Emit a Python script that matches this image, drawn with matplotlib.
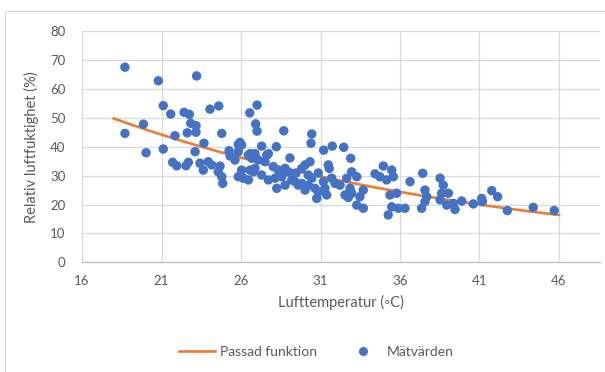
import numpy as np
import matplotlib.pyplot as plt
from matplotlib.patches import Rectangle
from matplotlib.lines import Line2D

# Mätvärden: lufttemperatur (°C) och relativ luftfuktighet (%)
temp = [
    18.70, 20.80, 23.21, 21.11, 21.58, 22.42, 22.75, 24.05, 24.60, 19.86,
    18.70, 22.84, 23.17, 22.62, 23.17, 21.85, 24.79, 23.67, 20.03, 21.11,
    23.11, 25.25, 25.83, 25.83, 21.70, 21.96, 22.54, 22.69, 23.42, 23.63,
    23.94, 24.16, 24.68, 24.57, 24.79, 24.85, 25.31, 25.62, 27.01, 26.55,
    26.92, 27.01, 28.69, 30.45, 30.40, 25.94, 26.04, 27.30, 28.22, 31.20,
    31.74, 32.46, 26.57, 26.88, 27.72, 25.83, 26.04, 26.46, 26.67, 26.88,
    27.09, 26.57, 26.77, 26.88, 26.14, 26.46, 27.62, 27.51, 28.03, 28.35,
    28.77, 27.72, 28.14, 28.56, 28.25, 28.97, 29.19, 29.40, 29.60, 29.82,
    29.82, 30.03, 30.34, 30.23, 30.45, 30.23, 30.65, 30.86, 30.76, 31.28,
    31.39, 31.18, 31.55, 31.49, 31.70, 31.91, 32.54, 32.90, 32.96, 33.28,
    32.23, 32.86, 32.96, 32.75, 33.69, 33.48, 33.28, 33.69, 34.43, 34.74,
    34.95, 35.16, 35.48, 35.58, 35.37, 35.79, 35.48, 35.26, 35.89, 36.31,
    36.63, 37.43, 37.57, 37.68, 37.57, 37.36, 38.52, 38.72, 38.62, 38.52,
    38.94, 39.04, 39.35, 39.46, 39.88, 40.61, 41.14, 41.18, 41.77, 42.14,
    42.75, 44.38, 45.70, 29.08, 29.46, 30.03, 28.77, 27.30, 30.86, 32.65,
]
rh = [
    67.5, 62.8, 64.5, 54.2, 51.3, 51.9, 51.2, 53.0, 54.1, 47.8,
    44.6, 48.1, 47.3, 44.8, 45.0, 43.8, 44.6, 41.2, 37.9, 39.2,
    38.3, 38.6, 40.8, 38.3, 34.6, 33.4, 33.4, 34.6, 34.3, 31.9,
    34.8, 33.7, 33.3, 31.3, 29.6, 27.3, 36.8, 35.4, 54.4, 51.7,
    47.9, 45.4, 45.5, 44.4, 41.2, 41.5, 40.6, 40.2, 40.0, 38.8,
    40.2, 39.8, 37.6, 37.6, 37.6, 29.6, 31.9, 37.1, 36.0, 36.5,
    35.4, 31.9, 31.3, 32.5, 29.1, 28.5, 37.1, 34.8, 33.1, 31.9,
    32.5, 28.5, 29.1, 29.6, 25.6, 31.3, 28.5, 27.9, 26.7, 27.3,
    32.5, 33.7, 34.8, 30.2, 29.1, 26.7, 25.6, 24.4, 22.1, 25.6,
    23.3, 27.9, 32.5, 33.7, 29.1, 27.3, 23.3, 36.0, 31.3, 29.6,
    26.7, 25.6, 23.9, 22.4, 25.0, 22.7, 19.8, 18.7, 30.6, 29.6,
    33.3, 28.5, 31.9, 29.6, 23.3, 23.9, 19.2, 16.4, 18.7, 18.7,
    27.9, 30.8, 25.0, 22.7, 21.0, 18.7, 29.1, 26.7, 23.9, 21.6,
    19.8, 23.9, 20.4, 18.3, 21.2, 20.2, 22.1, 21.0, 24.8, 22.7,
    17.9, 19.0, 17.9, 36.1, 30.9, 25.0, 26.7, 30.2, 30.9, 29.1,
]

# passad exponentialfunktion y = a * exp(k * x)
fit_a = 101.7
fit_k = -0.0397
fit_range = (18.0, 46.0)

xticks = [16, 21, 26, 31, 36, 41, 46]
yticks = [0, 10, 20, 30, 40, 50, 60, 70, 80]

blue = '#4472C4'
orange = '#ED7D31'
grey_text = '#595959'
grid_col = '#D9D9D9'

plt.rcParams['font.family'] = ['Lato', 'DejaVu Sans']

W, H = 605, 372
fig = plt.figure(figsize=(W / 100, H / 100), dpi=100)

left, right, bottom, top = 82, 600, 262.3, 31.1
ax = fig.add_axes([left / W, 1 - bottom / H, (right - left) / W, (bottom - top) / H])

px_per_unit = 15.9
ax.set_xlim(16, 16 + (right - left) / px_per_unit)
ax.set_ylim(0, 80)

fx = np.linspace(fit_range[0], fit_range[1], 100)
ax.plot(fx, fit_a * np.exp(fit_k * fx), color=orange, lw=1.9, zorder=2)
ax.scatter(temp, rh, s=46, color=blue, edgecolors='none', zorder=3)

ax.set_xticks(xticks)
ax.set_yticks(yticks)
ax.grid(True, color=grid_col, lw=0.9)
ax.set_axisbelow(True)
for s in ['top', 'right', 'left']:
    ax.spines[s].set_visible(False)
ax.spines['bottom'].set_color('#BFBFBF')
ax.spines['bottom'].set_linewidth(0.9)
ax.tick_params(length=0, labelsize=9.5, labelcolor=grey_text, pad=9)
ax.tick_params(axis='y', pad=12)

ax.set_xlabel('Lufttemperatur (◦C)', fontsize=10.5, color=grey_text, labelpad=6)
ax.set_ylabel('Relativ luftfuktighet (%)', fontsize=10.5, color=grey_text, labelpad=8)

handles = [
    Line2D([], [], color=orange, lw=1.9),
    Line2D([], [], marker='o', ls='none', color=blue, markersize=6.5, markeredgewidth=0),
]
fig.legend(handles, ['Passad funktion', 'Mätvärden'], loc='center',
           bbox_to_anchor=(316 / W, 1 - 352 / H), ncol=2, frameon=False,
           fontsize=10, labelcolor=grey_text, handlelength=2.6,
           columnspacing=2.0, handletextpad=0.4)

fig.patches.append(Rectangle((5 / W, -0.05), 2, 1.05 - 10.5 / H, transform=fig.transFigure,
                             fill=False, edgecolor=grid_col, lw=0.9))

fig.savefig('out.png', dpi=100)
